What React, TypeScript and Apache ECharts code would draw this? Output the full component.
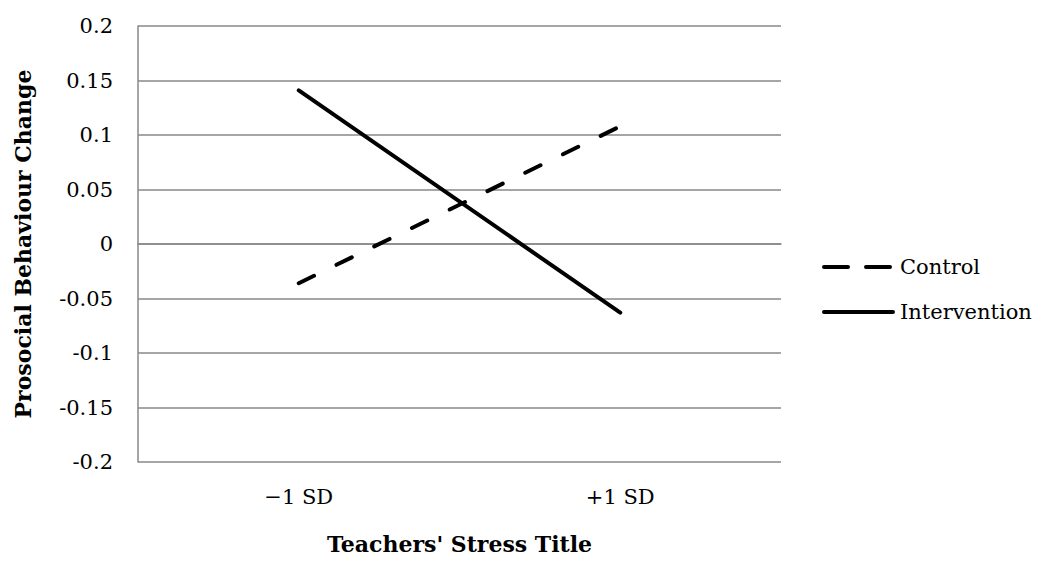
import React, { useEffect, useRef } from "react";
import * as echarts from "echarts";

const categories = ["\u22121 SD", "+1 SD"];
const seriesNames = ["Control", "Intervention"];
const controlValues = [-0.036, 0.108];
const interventionValues = [0.141, -0.063];
const yMin = -0.2;
const yMax = 0.2;
const yInterval = 0.05;

const FONT = "'DejaVu Serif', serif";

export default function App() {
  const ref = useRef<HTMLDivElement>(null);
  useEffect(() => {
    if (!ref.current) return;
    const chart = echarts.init(ref.current, undefined, { renderer: "svg" });
    const legendItems = seriesNames.map((name, i) => {
      const y = 267 + i * 45;
      return {
        type: "group",
        children: [
          {
            type: "line",
            shape: { x1: 824, y1: y, x2: i === 0 ? 891 : 893, y2: y },
            style: {
              stroke: "#000",
              lineWidth: 4,
              lineCap: "round",
              lineDash: i === 0 ? [24, 18] : null,
            },
          },
          {
            type: "text",
            x: 900,
            y: y,
            style: {
              text: name,
              fontFamily: FONT,
              fontSize: 21,
              fill: "#000",
              verticalAlign: "middle",
              align: "left",
            },
          },
        ],
      };
    });
    chart.setOption({
      animation: false,
      backgroundColor: "#ffffff",
      textStyle: { fontFamily: FONT },
      grid: { left: 138, right: 264, top: 26, bottom: 104 },
      graphic: legendItems,
      xAxis: {
        type: "category",
        data: categories,
        boundaryGap: true,
        name: "Teachers' Stress Title",
        nameLocation: "middle",
        nameGap: 71,
        nameTextStyle: { fontFamily: FONT, fontSize: 22, fontWeight: "bold", color: "#000" },
        axisLine: { show: true, lineStyle: { color: "#888", width: 1.5 } },
        axisTick: { show: false },
        axisLabel: { fontFamily: FONT, fontSize: 21, color: "#000", margin: 24 },
        splitLine: { show: false },
      },
      yAxis: {
        type: "value",
        min: yMin,
        max: yMax,
        interval: yInterval,
        name: "Prosocial Behaviour Change",
        nameLocation: "middle",
        nameRotate: 90,
        nameGap: 104,
        nameTextStyle: { fontFamily: FONT, fontSize: 22, fontWeight: "bold", color: "#000" },
        axisLine: { show: true, lineStyle: { color: "#888", width: 1.5 } },
        axisTick: { show: false },
        axisLabel: {
          fontFamily: FONT,
          fontSize: 21,
          color: "#000",
          margin: 25,
          formatter: (v: number) => String(Math.round(v * 100) / 100),
        },
        splitLine: { show: true, lineStyle: { color: "#888", width: 1.5 } },
      },
      series: [
        {
          name: seriesNames[0],
          type: "line",
          data: controlValues,
          symbol: "none",
          lineStyle: { color: "#000", width: 4, type: [17, 25], cap: "round" },
          itemStyle: { color: "#000" },
        },
        {
          name: seriesNames[1],
          type: "line",
          data: interventionValues,
          symbol: "none",
          lineStyle: { color: "#000", width: 4, type: "solid", cap: "round" },
          itemStyle: { color: "#000" },
        },
      ],
    });
    return () => chart.dispose();
  }, []);
  return <div ref={ref} style={{ width: 1045, height: 566, position: "absolute", left: 0, top: 0 }} />;
}
